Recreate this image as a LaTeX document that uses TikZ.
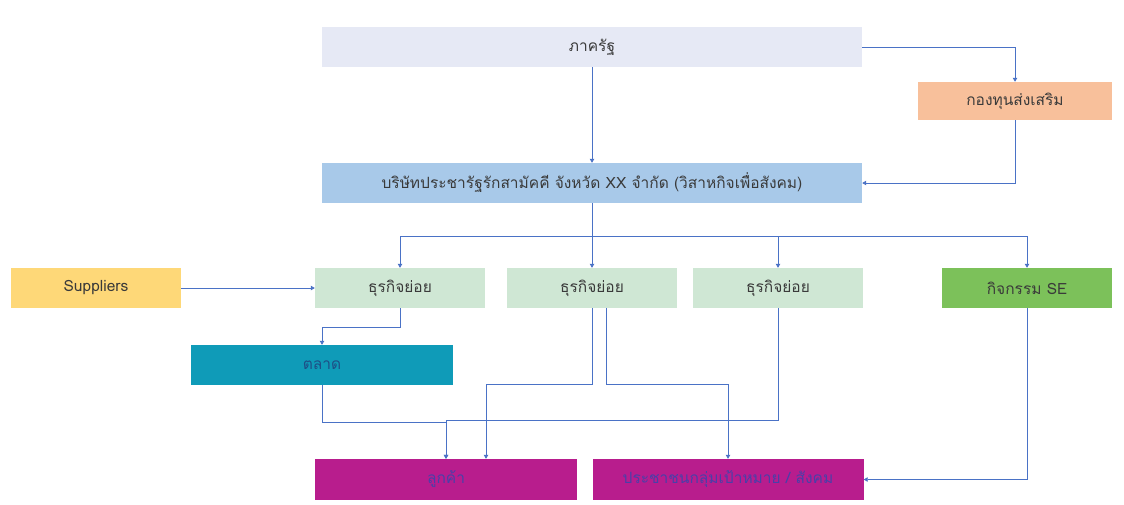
\documentclass[tikz,border=0pt]{standalone}
\usepackage{fontspec}
\setmainfont[Script=Thai]{Loma}
\usetikzlibrary{arrows.meta}
\definecolor{cgov}{HTML}{E6E9F5}
\definecolor{cfund}{HTML}{F8C09B}
\definecolor{cco}{HTML}{A8C9E9}
\definecolor{csup}{HTML}{FED878}
\definecolor{cbiz}{HTML}{CFE7D4}
\definecolor{cse}{HTML}{7CC15A}
\definecolor{cmkt}{HTML}{0F9BB8}
\definecolor{cmag}{HTML}{B81D8D}
\definecolor{cline}{HTML}{4A72C6}
\definecolor{ctext}{HTML}{3A3A3A}
\definecolor{cmtext}{HTML}{1E4F86}
\definecolor{cptext}{HTML}{4A3FA8}
\tikzset{
  box/.style={draw=none, inner sep=0pt, font=\fontsize{15.5}{18}\selectfont, text=ctext},
  conn/.style={draw=cline, line width=0.8pt},
  arr/.style={conn, -{Triangle[width=4.5pt,length=4pt]}},
}
\begin{document}
\begin{tikzpicture}[x=1pt,y=-1pt]
\useasboundingbox[fill=white] (0,0) rectangle (1124,504);
\node[box, fill=cgov, minimum width=540pt, minimum height=40pt] (gov) at (592,47) {ภาครัฐ};
\node[box, fill=cfund, minimum width=194pt, minimum height=38pt] (fund) at (1015,101) {กองทุนส่งเสริม};
\node[box, fill=cco, minimum width=540pt, minimum height=40pt] (co) at (592,183) {บริษัทประชารัฐรักสามัคคี จังหวัด XX จำกัด (วิสาหกิจเพื่อสังคม)};
\node[box, fill=csup, minimum width=170pt, minimum height=40pt] (sup) at (96,288) {Suppliers};
\node[box, fill=cbiz, minimum width=170pt, minimum height=40pt] (b1) at (400,288) {ธุรกิจย่อย};
\node[box, fill=cbiz, minimum width=170pt, minimum height=40pt] (b2) at (592,288) {ธุรกิจย่อย};
\node[box, fill=cbiz, minimum width=170pt, minimum height=40pt] (b3) at (778,288) {ธุรกิจย่อย};
\node[box, fill=cse, minimum width=170pt, minimum height=40pt] (se) at (1027,288) {กิจกรรม SE};
\node[box, fill=cmkt, text=cmtext, minimum width=262pt, minimum height=40pt] (mkt) at (322,365) {ตลาด};
\node[box, fill=cmag, text=cptext, minimum width=262pt, minimum height=41pt] (cust) at (446,479.5) {ลูกค้า};
\node[box, fill=cmag, text=cptext, minimum width=271pt, minimum height=41pt] (pub) at (728,479.5) {ประชาชนกลุ่มเป้าหมาย / สังคม};
% top
\draw[arr] (gov.east) -| (fund.north);
\draw[arr] (fund.south) |- (co.east);
\draw[arr] (gov.south) -- (co.north);
\coordinate (bus) at (592,236);
\draw[conn] (co.south) -- (bus);
\draw[arr] (bus) -| (b1.north);
\draw[arr] (bus) -- (b2.north);
\draw[arr] (bus) -| (b3.north);
\draw[arr] (bus) -| (se.north);
% suppliers
\draw[arr] (sup.east) -- (b1.west);
% to market
\draw[arr] (b1.south) -- ++(0,19) -| (mkt.north);
% to customers
\draw[arr] (mkt.south) -- ++(0,37) -| (cust.north);
\draw[arr] (b3.south) -- ++(0,112) -| (cust.north);
\draw[arr] (b2.south) -- ++(0,76) -| ([xshift=40pt]cust.north);
\draw[arr] ([xshift=14pt]b2.south) -- ++(0,76) -| (pub.north);
\draw[arr] (se.south) |- (pub.east);
\end{tikzpicture}
\end{document}
